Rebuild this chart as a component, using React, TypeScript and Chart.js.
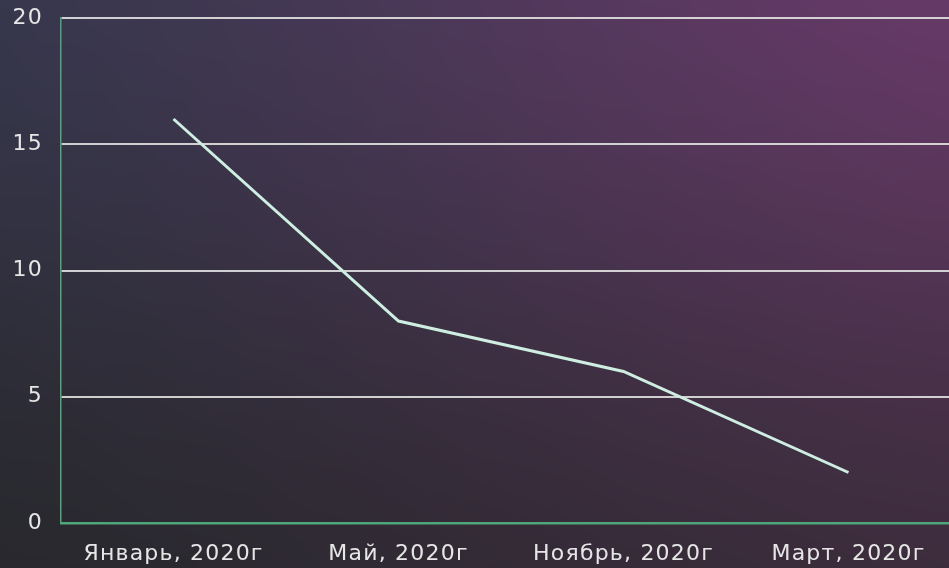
import React, { useEffect, useRef } from "react";
import { Chart, registerables } from "chart.js";

Chart.register(...registerables);

const categories = ["Январь, 2020г", "Май, 2020г", "Ноябрь, 2020г", "Март, 2020г"];
const values = [16, 8, 6, 2];
const yTicks = [0, 5, 10, 15, 20];

const corners = { tl: "#35384d", tr: "#6b3a6b", bl: "#26272b", br: "#3b2c3b" };

const bgPlugin = {
  id: "bilinearBg",
  beforeDraw(chart: any) {
    const { ctx, height } = chart;
    const off = document.createElement("canvas");
    off.width = 2;
    off.height = 2;
    const o = off.getContext("2d")!;
    o.fillStyle = corners.tl; o.fillRect(0, 0, 1, 1);
    o.fillStyle = corners.tr; o.fillRect(1, 0, 1, 1);
    o.fillStyle = corners.bl; o.fillRect(0, 1, 1, 1);
    o.fillStyle = corners.br; o.fillRect(1, 1, 1, 1);
    ctx.save();
    ctx.imageSmoothingEnabled = true;
    (ctx as any).imageSmoothingQuality = "high";
    ctx.drawImage(off, 0.5, 0.5, 1, 1, 0, 0, 949, height);
    ctx.restore();
    (ctx as any).letterSpacing = "1.2px";
  },
};

export default function App() {
  const ref = useRef<HTMLCanvasElement>(null);
  useEffect(() => {
    document.body.style.margin = "0";
    const chart = new Chart(ref.current!, {
      type: "line",
      data: {
        labels: categories,
        datasets: [
          {
            data: values,
            borderColor: "#cdeee0",
            borderWidth: 3,
            pointRadius: 0,
            tension: 0,
            fill: false,
          },
        ],
      },
      options: {
        responsive: false,
        animation: false,
        layout: { padding: { top: 18, right: 0, left: 0, bottom: 0 } },
        plugins: { legend: { display: false }, tooltip: { enabled: false } },
        scales: {
          x: {
            offset: true,
            grid: { display: false, drawTicks: false },
            border: { color: "#4fa67a", width: 2.5 },
            ticks: {
              color: "#e6e6e6",
              padding: 18,
              maxRotation: 0,
              autoSkip: false,
              font: { family: "DejaVu Sans", size: 22 },
            },
            afterFit(scale: any) {
              scale.height = 45;
              scale.paddingLeft = 0;
              scale.paddingRight = 0;
            },
          },
          y: {
            min: 0,
            max: 20,
            afterBuildTicks(scale: any) {
              scale.ticks = yTicks.map((v) => ({ value: v }));
            },
            grid: {
              drawTicks: false,
              lineWidth: 2,
              color: (c: any) => (c.tick && c.tick.value === 0 ? "rgba(0,0,0,0)" : "rgba(225,225,225,0.9)"),
            },
            border: { color: "#4fa67a", width: 1.5 },
            ticks: {
              color: "#e6e6e6",
              padding: 18,
              font: { family: "DejaVu Sans", size: 22 },
            },
            afterFit(scale: any) {
              scale.width = 61;
              scale.paddingTop = 0;
              scale.paddingBottom = 0;
            },
          },
        },
      },
      plugins: [bgPlugin],
    });
    return () => chart.destroy();
  }, []);
  return (
    <div style={{ width: 949, height: 568, overflow: "hidden", position: "relative" }}>
      <canvas ref={ref} width={961} height={568} style={{ display: "block" }} />
    </div>
  );
}
